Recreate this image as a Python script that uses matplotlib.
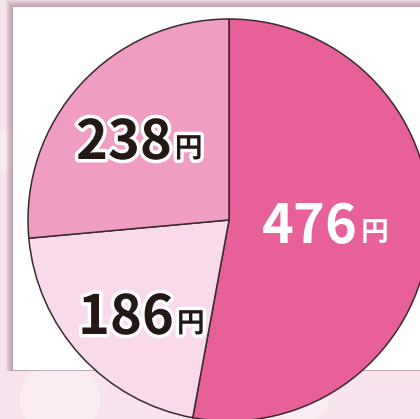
import matplotlib
matplotlib.use("Agg")
import matplotlib.pyplot as plt
import matplotlib.patheffects as pe
from matplotlib.patches import Rectangle
import numpy as np

values = [476, 186, 238]
labels = ["476", "186", "238"]
unit = "円"
colors = ["#E8609A", "#F9DAEA", "#F09DC3"]
text_colors = ["white", "#231815", "#231815"]

W, H = 420, 419
fig = plt.figure(figsize=(W / 100, H / 100), dpi=100)
fig.patch.set_facecolor("#f8e3ee")
ax = fig.add_axes([0, 0, 1, 1])

# soft blotches on the background
for (bx, by, br) in [(60, 400, 40), (300, 395, 30), (5, 150, 20)]:
    ax.add_patch(plt.Circle((bx, by), br, color="white", alpha=0.35, zorder=0.5, lw=0))

# soft shadow around the white card
for i in range(7):
    off = 7 - i
    ax.add_patch(Rectangle((13 - off, 7 - off), 500, 363 + off + 1,
                           facecolor="#9e7f8a", alpha=0.12, edgecolor="none", zorder=1))
ax.add_patch(Rectangle((13, 7), 500, 363, facecolor="white", edgecolor="none", zorder=2))

cx, cy, r = 229, 220, 201
wedges, _ = ax.pie(values, colors=colors, startangle=-90, counterclock=True,
                   center=(cx, cy), radius=r, frame=True,
                   wedgeprops=dict(edgecolor="#3a2a2e", linewidth=1.1))
for w in wedges:
    w.set_zorder(3)
ax.set_xlim(0, W)
ax.set_ylim(H, 0)
ax.set_aspect("equal")
ax.axis("off")

fam = ["Noto Sans CJK JP", "DejaVu Sans"]
pos = [(262, 243), (78, 334), (76, 159)]
for lab, tc, (x, y) in zip(labels, text_colors, pos):
    eff = [] if tc == "white" else [pe.withStroke(linewidth=5, foreground="white")]
    t = ax.text(x, y, lab, fontsize=39, fontweight="bold", color=tc, family=fam,
                ha="left", va="baseline", zorder=5, path_effects=eff)
    fig.canvas.draw()
    bb = t.get_window_extent()
    x2 = ax.transData.inverted().transform((bb.x1, 0))[0]
    ax.text(x2 + 3, y - 2, unit, fontsize=20, fontweight="bold", color=tc, family=fam,
            ha="left", va="baseline", zorder=5, path_effects=eff)

fig.savefig("out.png", dpi=100, facecolor=fig.get_facecolor())
